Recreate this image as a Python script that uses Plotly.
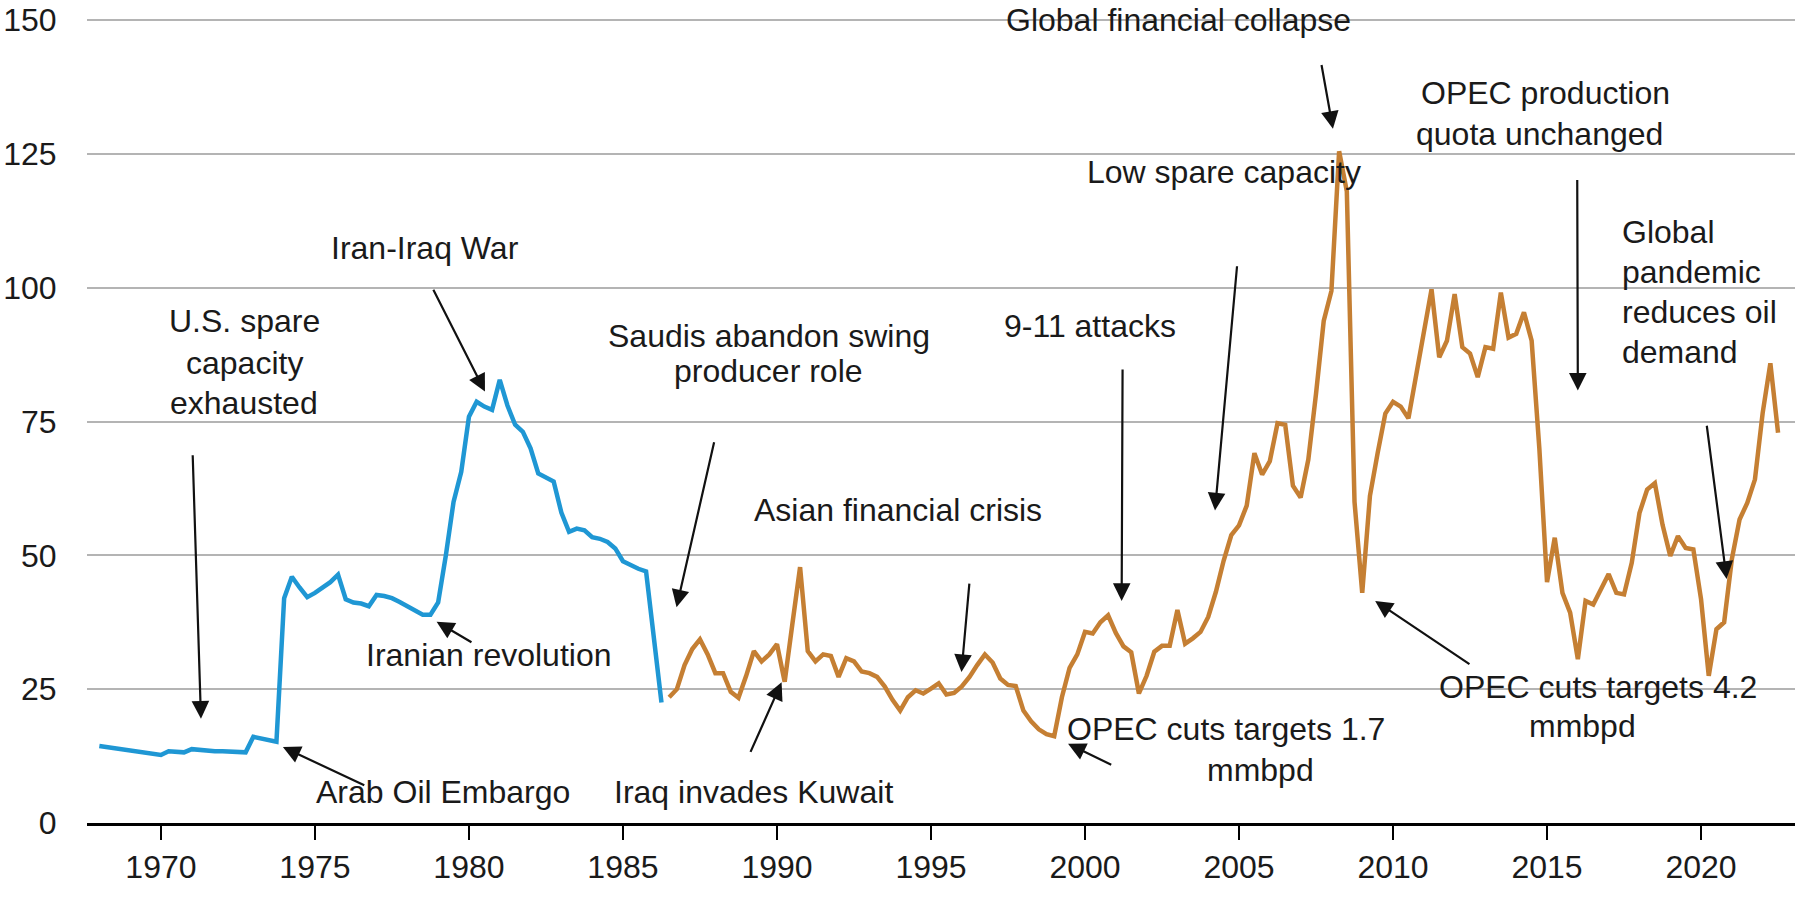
import plotly.graph_objects as go

# ---------------- data (quarterly, real oil price) ----------------
blue_start_year = 1968
blue_values = [
    14.4, 14.2, 14.0, 13.8,   # 1968
    13.6, 13.3, 13.0, 12.8,   # 1969
    12.7, 13.4, 13.3, 13.2,   # 1970
    13.8, 13.6, 13.5, 13.4,   # 1971
    13.4, 13.3, 13.3, 13.2,   # 1972
    16.1, 15.8, 15.5, 15.2,   # 1973
    42.0, 46.0, 44.0, 42.2,   # 1974
    43.0, 44.0, 45.0, 46.4,   # 1975
    41.8, 41.2, 41.0, 40.5,   # 1976
    42.6, 42.4, 42.0, 41.3,   # 1977
    40.5, 39.8, 38.9, 38.9,   # 1978
    41.2, 50.0, 60.0, 65.6,   # 1979
    75.9, 78.7, 77.8, 77.2,   # 1980
    82.8, 78.0, 74.4, 73.1,   # 1981
    70.0, 65.3, 64.5, 63.8,   # 1982
    58.0, 54.4, 55.0, 54.7,   # 1983
    53.4, 53.1, 52.5, 51.3,   # 1984
    48.9, 48.1, 47.5, 47.0,   # 1985
    35.0, 22.5,               # 1986 H1
]

orange_start_year = 1986.5
orange_values = [
    23.5, 25.0,               # 1986 H2
    29.5, 32.5, 34.3, 31.5,   # 1987
    28.0, 28.0, 24.5, 23.4,   # 1988
    27.5, 32.1, 30.2, 31.5,   # 1989
    33.4, 26.4, 37.2, 47.8,   # 1990
    32.1, 30.2, 31.5, 31.2,   # 1991
    27.3, 30.8, 30.2, 28.3,   # 1992
    28.0, 27.3, 25.5, 23.0,   # 1993
    21.0, 23.5, 24.8, 24.2,   # 1994
    25.1, 26.1, 24.0, 24.3,   # 1995
    25.5, 27.3, 29.5, 31.5,   # 1996
    30.0, 27.0, 25.8, 25.6,   # 1997
    21.0, 19.0, 17.5, 16.6,   # 1998
    16.2, 23.5, 29.0, 31.5,   # 1999
    35.7, 35.4, 37.5, 38.8,   # 2000
    35.5, 33.0, 31.9, 24.2,   # 2001
    27.5, 32.0, 33.1, 33.1,   # 2002
    39.8, 33.5, 34.5, 35.7,   # 2003
    38.5, 43.2, 49.0, 53.8,   # 2004
    55.6, 59.3, 69.1, 65.1,   # 2005
    67.6, 74.7, 74.4, 63.0,   # 2006
    60.8, 67.9, 80.2, 93.8,   # 2007
    99.4, 125.5, 118.0, 60.0, # 2008
    43.0, 61.1, 69.1, 76.5,   # 2009
    78.7, 77.8, 75.6, 84.0,   # 2010
    92.0, 99.7, 87.0, 90.1,   # 2011
    98.8, 88.9, 87.7, 83.3,   # 2012
    88.9, 88.6, 99.1, 90.7,   # 2013
    91.4, 95.4, 90.1, 70.0,   # 2014
    45.0, 53.3, 43.0, 39.3,   # 2015
    30.6, 41.5, 40.8, 43.7,   # 2016
    46.5, 43.0, 42.7, 48.6,   # 2017
    57.9, 62.3, 63.5, 55.7,   # 2018
    49.9, 53.6, 51.4, 51.1,   # 2019
    41.8, 27.5, 36.2, 37.5,   # 2020
    49.3, 56.7, 59.8, 64.2,   # 2021
    76.6, 85.9, 72.9,         # 2022
]

x_tick_years = [1970, 1975, 1980, 1985, 1990, 1995, 2000, 2005, 2010, 2015, 2020]
y_tick_values = [0, 25, 50, 75, 100, 125, 150]

# event labels: (text, x, y, xanchor)
event_labels = [
    ("U.S. spare", 1972.7, 93.8, "center"),
    ("capacity", 1972.7, 86.0, "center"),
    ("exhausted", 1972.7, 78.4, "center"),
    ("Iran-Iraq War", 1978.57, 107.5, "center"),
    ("Iranian revolution", 1980.65, 31.4, "center"),
    ("Arab Oil Embargo", 1979.16, 5.8, "center"),
    ("Saudis abandon swing", 1989.73, 91.0, "center"),
    ("producer role", 1989.73, 84.5, "center"),
    ("Asian financial crisis", 1993.92, 58.4, "center"),
    ("Iraq invades Kuwait", 1989.25, 5.8, "center"),
    ("9-11 attacks", 2000.16, 92.9, "center"),
    ("OPEC cuts targets 1.7", 2004.57, 17.5, "center"),
    ("mmbpd", 2005.69, 9.9, "center"),
    ("Global financial collapse", 2003.03, 150.0, "center"),
    ("Low spare capacity", 2004.5, 121.7, "center"),
    ("OPEC production", 2014.96, 136.4, "center"),
    ("quota unchanged", 2014.77, 128.8, "center"),
    ("Global", 2017.38, 110.5, "left"),
    ("pandemic", 2017.38, 103.0, "left"),
    ("reduces oil", 2017.38, 95.5, "left"),
    ("demand", 2017.38, 88.0, "left"),
    ("OPEC cuts targets 4.2", 2016.67, 25.4, "center"),
    ("mmbpd", 2016.15, 18.1, "center"),
]

# arrows: (tail_x, tail_y, head_x, head_y)
event_arrows = [
    (1971.03, 69.0, 1971.3, 19.5),     # US spare capacity
    (1978.82, 99.9, 1980.52, 80.6),    # Iran-Iraq war
    (1980.13, 33.6, 1978.95, 37.6),    # Iranian revolution
    (1976.65, 6.9, 1973.96, 14.2),     # Arab oil embargo
    (1987.97, 71.4, 1986.74, 40.3),    # Saudis
    (1996.25, 45.0, 1995.99, 28.2),    # Asian financial crisis
    (1989.12, 13.0, 1990.15, 26.3),    # Iraq invades Kuwait
    (2001.22, 85.0, 2001.19, 41.5),    # 9-11
    (2004.94, 104.3, 2004.22, 58.4),   # Low spare capacity
    (2007.67, 141.9, 2008.05, 129.7),  # Global financial collapse
    (2015.98, 120.4, 2016.0, 80.8),    # OPEC quota unchanged
    (2020.18, 74.5, 2020.83, 45.6),    # pandemic
    (2000.9, 10.75, 1999.45, 14.8),    # OPEC cuts 1.7
    (2012.53, 29.5, 2009.42, 41.5),    # OPEC cuts 4.2
]

# ---------------- figure ----------------
FONT = "Liberation Sans, Arial, sans-serif"
TEXT_COLOR = "#1a1a1a"
LABEL_SIZE = 32
TICK_SIZE = 32

blue_x = [blue_start_year + 0.25 * i for i in range(len(blue_values))]
orange_x = [orange_start_year + 0.25 * i for i in range(len(orange_values))]

fig = go.Figure()
fig.add_trace(go.Scatter(x=blue_x, y=blue_values, mode="lines",
                         line=dict(color="#1f97d4", width=4.5), showlegend=False))
fig.add_trace(go.Scatter(x=orange_x, y=orange_values, mode="lines",
                         line=dict(color="#c57f33", width=4.5), showlegend=False))

annotations = []
for text, x, y, xa in event_labels:
    annotations.append(dict(x=x, y=y, xref="x", yref="y", text=text, showarrow=False,
                            xanchor=xa, yanchor="middle",
                            font=dict(family=FONT, size=LABEL_SIZE, color=TEXT_COLOR)))
for tx, ty, hx, hy in event_arrows:
    annotations.append(dict(x=hx, y=hy, ax=tx, ay=ty, xref="x", yref="y",
                            axref="x", ayref="y", text="", showarrow=True,
                            arrowhead=2, arrowsize=1.6, arrowwidth=2.2,
                            arrowcolor="#111111", standoff=0, startstandoff=0))

fig.update_layout(
    width=1805, height=899,
    margin=dict(l=87, r=10, t=18, b=76),
    paper_bgcolor="white", plot_bgcolor="white",
    font=dict(family=FONT, size=TICK_SIZE, color=TEXT_COLOR),
    annotations=annotations,
    showlegend=False,
)
fig.update_xaxes(
    range=[1967.6, 2023.05], automargin=False,
    tickmode="array", tickvals=x_tick_years, ticktext=[str(v) for v in x_tick_years],
    showgrid=False, zeroline=False,
    showline=True, linecolor="#000000", linewidth=2.5,
    ticks="outside", ticklen=14, tickwidth=2, tickcolor="#000000",
    tickfont=dict(family=FONT, size=TICK_SIZE, color=TEXT_COLOR),
)
fig.update_yaxes(
    range=[0, 150.4], automargin=False,
    tickmode="array", tickvals=y_tick_values, ticktext=[str(v) for v in y_tick_values],
    showgrid=True, gridcolor="#b4b4b4", gridwidth=2,
    zeroline=False, showline=False,
    ticks="outside", ticklen=23, tickcolor="rgba(0,0,0,0)",
    tickfont=dict(family=FONT, size=TICK_SIZE, color=TEXT_COLOR),
)

fig.write_html("out.html", config={"displayModeBar": False},
               post_script="document.body.style.margin='0';")
